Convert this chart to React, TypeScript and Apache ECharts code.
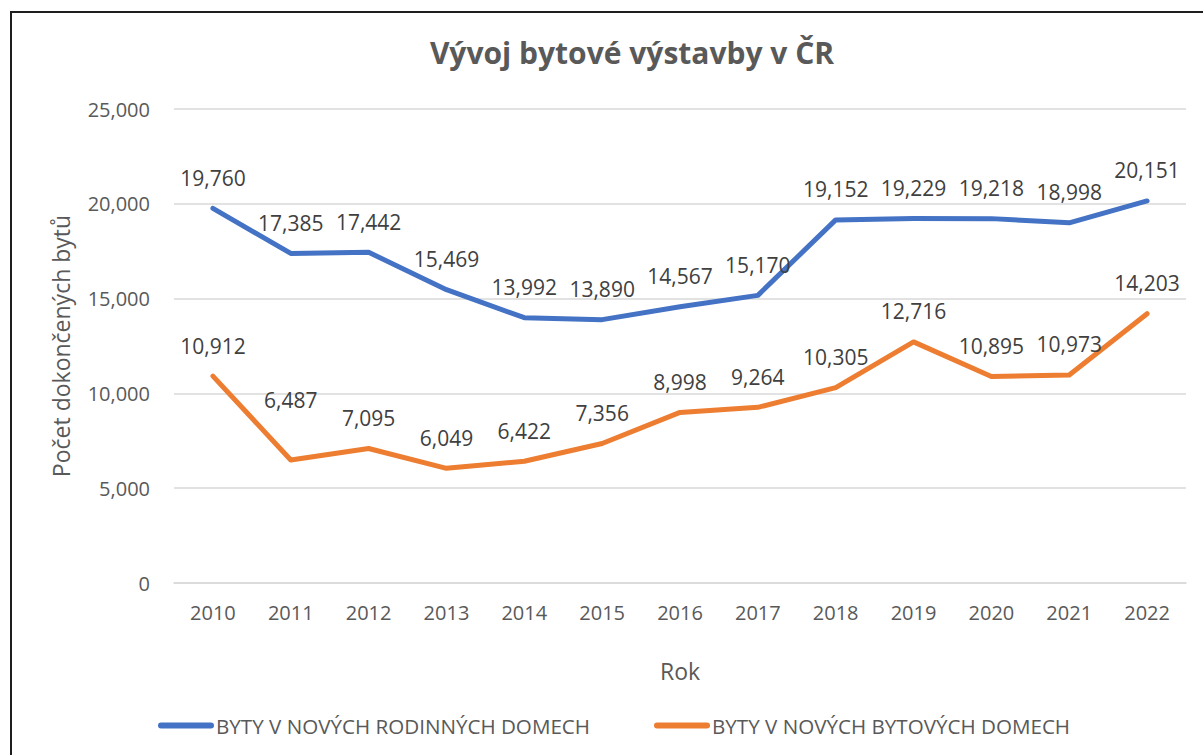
import React, { useEffect, useRef } from "react";
import * as echarts from "echarts";

const years = ["2010", "2011", "2012", "2013", "2014", "2015", "2016", "2017", "2018", "2019", "2020", "2021", "2022"];
const rodinneDomy = [19760, 17385, 17442, 15469, 13992, 13890, 14567, 15170, 19152, 19229, 19218, 18998, 20151];
const bytoveDomy = [10912, 6487, 7095, 6049, 6422, 7356, 8998, 9264, 10305, 12716, 10895, 10973, 14203];
const seriesNames = ["BYTY V NOVÝCH RODINNÝCH DOMECH", "BYTY V NOVÝCH BYTOVÝCH DOMECH"];
const titleText = "Vývoj bytové výstavby v ČR";
const xAxisName = "Rok";
const yAxisName = "Počet dokončených bytů";

const FONT = "'Open Sans', sans-serif";
const TEXT = "#595959";
const fmt = (v: number) => v.toLocaleString("en-US");
const CAPSULE = "path://M3,0 L53,0 A3,3 0 0 1 53,6 L3,6 A3,3 0 0 1 3,0 Z";

export default function App() {
  const ref = useRef<HTMLDivElement>(null);
  useEffect(() => {
    if (!ref.current) return;
    const chart = echarts.init(ref.current, undefined, { renderer: "svg" });
    const labelBase = {
      show: true,
      position: "top" as const,
      distance: 20,
      color: "#404040",
      fontSize: 21,
      fontFamily: FONT,
      formatter: (p: any) => fmt(p.value),
    };
    chart.setOption({
      animation: false,
      backgroundColor: "#ffffff",
      textStyle: { fontFamily: FONT },
      title: {
        text: titleText,
        left: 627,
        textAlign: "center",
        top: 32,
        textStyle: { fontFamily: FONT, fontSize: 30, fontWeight: "bold", color: TEXT },
      },
      graphic: [
        {
          type: "rect",
          shape: { x: 11, y: 12, width: 1400, height: 1000 },
          style: { fill: "none", stroke: "#1e1e1e", lineWidth: 2 },
          silent: true,
        },
      ],
      legend: {
        left: 153,
        top: 710,
        itemWidth: 56,
        itemHeight: 6,
        itemGap: 64,
        textStyle: { fontFamily: FONT, fontSize: 20.6, color: TEXT, padding: [0, 0, 0, -3] },
        data: [
          { name: seriesNames[0], icon: CAPSULE },
          { name: seriesNames[1], icon: CAPSULE },
        ],
      },
      grid: { left: 174, right: 17, top: 109, bottom: 172, containLabel: false },
      xAxis: {
        type: "category",
        data: years,
        boundaryGap: true,
        name: xAxisName,
        nameLocation: "middle",
        nameGap: 76,
        nameTextStyle: { fontFamily: FONT, fontSize: 23, color: TEXT },
        axisLine: { lineStyle: { color: "#d9d9d9", width: 1.5 } },
        axisTick: { show: false },
        axisLabel: { fontFamily: FONT, fontSize: 20, color: TEXT, margin: 19 },
      },
      yAxis: {
        type: "value",
        min: 0,
        max: 25000,
        interval: 5000,
        name: yAxisName,
        nameLocation: "middle",
        nameGap: 102,
        nameTextStyle: { fontFamily: FONT, fontSize: 23, color: TEXT },
        axisLine: { show: false },
        axisTick: { show: false },
        splitLine: { lineStyle: { color: "#d9d9d9", width: 1.5 } },
        axisLabel: { fontFamily: FONT, fontSize: 20, color: TEXT, margin: 24, formatter: (v: number) => fmt(v) },
      },
      series: [
        {
          name: seriesNames[0],
          type: "line",
          data: rodinneDomy,
          symbol: "circle",
          symbolSize: 0.01,
          showSymbol: true,
          lineStyle: { color: "#4472C4", width: 5, cap: "round", join: "round" },
          itemStyle: { color: "#4472C4" },
          label: labelBase,
        },
        {
          name: seriesNames[1],
          type: "line",
          data: bytoveDomy.map((v, i) => (i === 1 ? { value: v, label: { distance: 50 } } : v)),
          symbol: "circle",
          symbolSize: 0.01,
          showSymbol: true,
          lineStyle: { color: "#ED7D31", width: 5, cap: "round", join: "round" },
          itemStyle: { color: "#ED7D31" },
          label: labelBase,
        },
      ],
    });
    return () => chart.dispose();
  }, []);
  return (
    <div
      ref={ref}
      style={{ position: "fixed", left: 0, top: 0, width: 1203, height: 755, background: "#fff" }}
    />
  );
}
